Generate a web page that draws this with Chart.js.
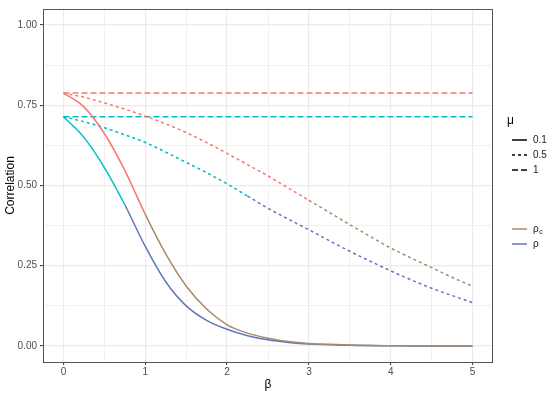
<!DOCTYPE html>
<html><head><meta charset="utf-8">
<script src="https://cdn.jsdelivr.net/npm/chart.js@4.4.1/dist/chart.umd.min.js"></script>
<style>html,body{margin:0;padding:0;background:#fff;}#wrap{width:550px;height:395px;position:relative;}</style>
</head><body><div id="wrap"><canvas id="c" width="550" height="395"></canvas></div>
<script>
const beta = [0,0.25,0.5,0.75,1,1.25,1.5,1.75,2,2.25,2.5,2.75,3,3.25,3.5,3.75,4,4.25,4.5,4.75,5];
const rhoC_mu01 = [0.788,0.745,0.662,0.547,0.41,0.287,0.187,0.115,0.066,0.04,0.024,0.014,0.008,0.005,0.003,0.002,0.001,0.001,0,0,0];
const rho_mu01  = [0.714,0.65,0.556,0.44,0.31,0.2,0.125,0.08,0.052,0.032,0.019,0.011,0.006,0.004,0.002,0.001,0.001,0,0,0,0];
const rhoC_mu05 = [0.788,0.775,0.757,0.738,0.716,0.692,0.665,0.634,0.60,0.565,0.53,0.492,0.454,0.416,0.378,0.341,0.305,0.274,0.244,0.214,0.186];
const rho_mu05  = [0.714,0.699,0.68,0.658,0.634,0.604,0.572,0.54,0.505,0.467,0.429,0.395,0.362,0.328,0.295,0.264,0.234,0.206,0.18,0.157,0.135];
const rhoC_mu1  = [0.788,0.788,0.788,0.788,0.788,0.788,0.788,0.788,0.788,0.788,0.788,0.788,0.788,0.788,0.788,0.788,0.788,0.788,0.788,0.788,0.788];
const rho_mu1   = [0.714,0.714,0.714,0.714,0.714,0.714,0.714,0.714,0.714,0.714,0.714,0.714,0.714,0.714,0.714,0.714,0.714,0.714,0.714,0.714,0.714];
const xTicks = [0,1,2,3,4,5];
const xMinor = [0.5,1.5,2.5,3.5,4.5];
const yTicks = [0,0.25,0.5,0.75,1];
const yMinor = [0.125,0.375,0.625,0.875];
const muLevels = ['0.1','0.5','1'];
const seriesNames = ['ρc','ρ'];

const FONT = '"Liberation Sans", Arial, sans-serif';
const RED = '#F8766D', TEAL = '#00BFC4';
const RED_LOW = '#A88A68', TEAL_LOW = '#6276C0';
const DASH = {'0.1': [], '0.5': [3,3], '1': [6,3]};

function pts(ys){ return beta.map((b,i)=>({x:b,y:ys[i]})); }
function ds(ys, hi, lo, mu){
  return {
    data: pts(ys), showLine: true, pointRadius: 0, borderWidth: 1.5,
    borderColor: hi, borderDash: DASH[mu], cubicInterpolationMode: 'monotone',
    segment: { borderColor: c => ((c.p0.parsed.y + c.p1.parsed.y)/2 < 0.45 ? lo : hi) }
  };
}

const legendPlugin = {
  id: 'ggLegend',
  afterDraw(chart){
    const ctx = chart.ctx, a = chart.chartArea;
    ctx.save();
    ctx.strokeStyle = '#555';
    ctx.lineWidth = 1;
    ctx.setLineDash([]);
    ctx.strokeRect(Math.round(a.left)+0.5, Math.round(a.top)+0.5, Math.round(a.right-a.left)-1, Math.round(a.bottom-a.top));
    ctx.fillStyle = '#000';
    ctx.textBaseline = 'middle';
    ctx.textAlign = 'left';
    ctx.font = '12px ' + FONT;
    ctx.fillText('μ', 507, 121);
    ctx.font = '10px ' + FONT;
    muLevels.forEach((m,i)=>{
      const y = 140 + i*15;
      ctx.strokeStyle = '#000'; ctx.lineWidth = 1.5;
      ctx.setLineDash(DASH[m]);
      ctx.beginPath(); ctx.moveTo(512, y); ctx.lineTo(527, y); ctx.stroke();
      ctx.fillStyle = '#1a1a1a';
      ctx.fillText(m, 533, y);
    });
    const cols = [RED_LOW, TEAL_LOW];
    seriesNames.forEach((s,i)=>{
      const y = 229 + i*15;
      ctx.setLineDash([]);
      ctx.strokeStyle = cols[i]; ctx.lineWidth = 1.5;
      ctx.beginPath(); ctx.moveTo(512, y); ctx.lineTo(527, y); ctx.stroke();
      ctx.fillStyle = '#1a1a1a';
      ctx.font = '10px ' + FONT;
      ctx.fillText(s.charAt(0), 533, y);
      if (s.length > 1) {
        const w = ctx.measureText(s.charAt(0)).width;
        ctx.font = '7px ' + FONT;
        ctx.fillText(s.slice(1), 533 + w + 0.5, y + 3);
      }
    });
    ctx.restore();
  }
};

const gridCol = '#EBEBEB';
new Chart(document.getElementById('c'), {
  type: 'scatter',
  data: { datasets: [
    ds(rhoC_mu01, RED, RED_LOW, '0.1'),
    ds(rho_mu01, TEAL, TEAL_LOW, '0.1'),
    ds(rhoC_mu05, RED, RED_LOW, '0.5'),
    ds(rho_mu05, TEAL, TEAL_LOW, '0.5'),
    ds(rhoC_mu1, RED, RED_LOW, '1'),
    ds(rho_mu1, TEAL, TEAL_LOW, '1')
  ]},
  options: {
    responsive: false, animation: false, devicePixelRatio: 1,
    layout: { padding: { left: 0, right: 57, top: 4.5, bottom: 0 } },
    plugins: { legend: { display: false }, tooltip: { enabled: false } },
    scales: {
      x: {
        type: 'linear', min: -0.25, max: 5.25,
        afterBuildTicks: s => { s.ticks = xTicks.concat(xMinor).sort((p,q)=>p-q).map(v=>({value:v})); },
        afterFit: s => { s.height = 33; },
        border: { display: false },
        grid: {
          color: gridCol,
          lineWidth: c => (xTicks.includes(c.tick && c.tick.value) ? 1.2 : 0.7),
          tickColor: c => (xTicks.includes(c.tick && c.tick.value) ? '#333' : 'rgba(0,0,0,0)'),
          tickLength: 3, tickWidth: 1
        },
        ticks: {
          autoSkip: false, maxRotation: 0, padding: 1, color: '#4D4D4D',
          font: { family: FONT, size: 10 },
          callback: v => (xTicks.includes(v) ? String(v) : '')
        },
        title: { display: true, text: 'β', color: '#000', font: { family: FONT, size: 12 }, padding: { top: 0, bottom: 3 } }
      },
      y: {
        type: 'linear', min: -0.05, max: 1.05,
        afterBuildTicks: s => { s.ticks = yTicks.concat(yMinor).sort((p,q)=>p-q).map(v=>({value:v})); },
        afterFit: s => { s.width = 43; },
        border: { display: false },
        grid: {
          color: gridCol,
          lineWidth: c => (yTicks.includes(c.tick && c.tick.value) ? 1.2 : 0.7),
          tickColor: c => (yTicks.includes(c.tick && c.tick.value) ? '#333' : 'rgba(0,0,0,0)'),
          tickLength: 3, tickWidth: 1
        },
        ticks: {
          autoSkip: false, padding: 3, color: '#4D4D4D',
          font: { family: FONT, size: 10 },
          callback: v => (yTicks.includes(v) ? v.toFixed(2) : '')
        },
        title: { display: true, text: 'Correlation', color: '#000', font: { family: FONT, size: 12 }, padding: { top: 3, bottom: 0 } }
      }
    }
  },
  plugins: [legendPlugin]
});
</script></body></html>
